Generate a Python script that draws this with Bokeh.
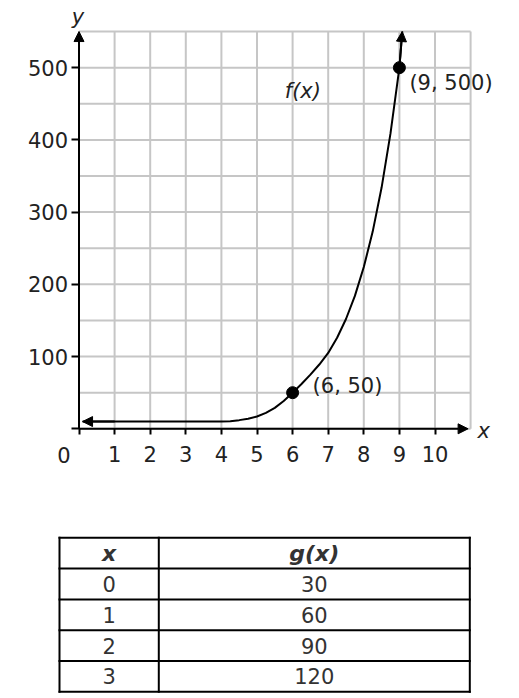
from bokeh.plotting import figure
from bokeh.models import Range1d, FixedTicker, Arrow, NormalHead, Label, ColumnDataSource, LinearAxis
from bokeh.layouts import column
from bokeh.embed import file_html
from bokeh.resources import INLINE
from bokeh.core.properties import value

# ---------------- data ----------------
curve_x = [0.1, 1, 2, 3, 4, 4.25, 4.5, 4.75, 5, 5.25, 5.5, 5.75, 6, 6.25, 6.5, 6.75,
           7, 7.25, 7.5, 7.75, 8, 8.25, 8.5, 8.75, 9, 9.08]
curve_y = [10, 10, 10, 10, 10, 10.5, 12, 14, 17, 22, 29, 38.5, 50, 62, 75, 89,
           105, 126, 152, 184, 224, 273, 334, 409, 500, 550]
point_x = [6, 9]
point_y = [50, 500]
point_labels = ["(6, 50)", "(9, 500)"]
x_ticks = [0, 1, 2, 3, 4, 5, 6, 7, 8, 9, 10]
y_ticks = [0, 100, 200, 300, 400, 500]
grid_x = [0, 1, 2, 3, 4, 5, 6, 7, 8, 9, 10, 11]
grid_y = [0, 50, 100, 150, 200, 250, 300, 350, 400, 450, 500, 550]
table_header = ["x", "g(x)"]
table_x = ["0", "1", "2", "3"]
table_g = ["30", "60", "90", "120"]

FONT = "DejaVu Sans"
TXT = "#222222"
GRID = "#c6c6c6"

# ---------------- chart (frame fills the whole figure) ----------------
W, H = 519, 480
X0_PX, XU = 78.5, 35.6      # pixel of x=0, pixels per x unit
Y0_PX, YU = 428.3, 0.7223   # pixel of y=0, pixels per y unit
p = figure(width=W, height=H,
           x_range=Range1d(-X0_PX / XU, (W - X0_PX) / XU),
           y_range=Range1d((Y0_PX - H) / YU, Y0_PX / YU),
           x_axis_type=None, y_axis_type=None,
           output_backend="svg", toolbar_location=None, min_border=0)
p.outline_line_color = None

# grid restricted to the plotting square
p.segment(x0=grid_x, y0=[grid_y[0]] * len(grid_x), x1=grid_x, y1=[grid_y[-1]] * len(grid_x),
          line_color=GRID, line_width=2)
p.segment(x0=[grid_x[0]] * len(grid_y), y0=grid_y, x1=[grid_x[-1]] * len(grid_y), y1=grid_y,
          line_color=GRID, line_width=2)

xaxis = LinearAxis(fixed_location=0, ticker=FixedTicker(ticks=x_ticks))
yaxis = LinearAxis(fixed_location=0, ticker=FixedTicker(ticks=y_ticks))
xaxis.major_label_overrides = {0: ""}
yaxis.major_label_overrides = {0: ""}
for ax in (xaxis, yaxis):
    ax.axis_line_color = None
    ax.minor_tick_line_color = None
    ax.major_tick_line_color = "black"
    ax.major_tick_line_width = 2
    ax.major_tick_in = 0
    ax.major_label_text_font = FONT
    ax.major_label_text_font_size = "21px"
    ax.major_label_text_color = TXT
xaxis.major_tick_out = 6
xaxis.major_label_standoff = 11
yaxis.major_tick_out = 8
yaxis.major_label_standoff = 3
p.add_layout(xaxis, "below")
p.add_layout(yaxis, "left")

def head():
    return NormalHead(size=10, fill_color="black", line_color="black", line_width=1)

# axis lines with arrow heads
p.add_layout(Arrow(end=head(), x_start=0, y_start=0, x_end=10.93, y_end=0,
                   line_width=2, line_color="black"))
p.add_layout(Arrow(end=head(), x_start=0, y_start=0, x_end=0, y_end=grid_y[-1],
                   line_width=2, line_color="black"))

# curve f(x)
p.line(curve_x, curve_y, line_width=2, line_color="black")
p.add_layout(Arrow(end=head(), x_start=curve_x[-2], y_start=curve_y[-2],
                   x_end=curve_x[-1], y_end=curve_y[-1], line_width=2, line_color="black"))
p.add_layout(Arrow(end=head(), x_start=curve_x[1], y_start=curve_y[1],
                   x_end=curve_x[0], y_end=curve_y[0], line_width=2, line_color="black"))

p.scatter(point_x, point_y, size=12, color="black")

offsets = [(20, 6.5), (10, -15.5)]
for px, py, lab, (dx, dy) in zip(point_x, point_y, point_labels, offsets):
    p.add_layout(Label(x=px, y=py, text=lab, x_offset=dx, y_offset=dy,
                       text_font=FONT, text_font_size="21px", text_color=TXT,
                       text_align="left", text_baseline="alphabetic"))

p.add_layout(Label(x=5.78, y=468, text="f(x)", text_font=FONT, text_font_size="21px",
                   text_font_style="italic", text_color=TXT,
                   text_align="left", text_baseline="alphabetic"))
p.add_layout(Label(x=0, y=0, text="0", x_offset=-15, y_offset=-26.5, text_font=FONT,
                   text_font_size="21px", text_color=TXT,
                   text_align="center", text_baseline="middle"))
p.add_layout(Label(x=grid_x[-1], y=0, text="x", x_offset=13, y_offset=-2.5, text_font=FONT,
                   text_font_size="21px", text_font_style="italic", text_color=TXT,
                   text_align="center", text_baseline="alphabetic"))
p.add_layout(Label(x=0, y=grid_y[-1], text="y", x_offset=-1, y_offset=15, text_font=FONT,
                   text_font_size="21px", text_font_style="italic", text_color=TXT,
                   text_align="center", text_baseline="alphabetic"))

# ---------------- table ----------------
TH = 698 - H
TOP_PX, ROW_PX = 57.3, 30.8
t = figure(width=W, height=TH, x_range=Range1d(0, W),
           y_range=Range1d((TH - TOP_PX) / ROW_PX, -TOP_PX / ROW_PX),
           output_backend="svg", toolbar_location=None, x_axis_type=None, y_axis_type=None,
           min_border=0)
t.outline_line_color = None

col_edges = [59, 158.3, 469.3]
n_rows = len(table_x) + 1
row_edges = list(range(n_rows + 1))
t.segment(x0=[col_edges[0]] * len(row_edges), y0=row_edges,
          x1=[col_edges[-1]] * len(row_edges), y1=row_edges,
          line_color="black", line_width=2, line_cap="square")
t.segment(x0=col_edges, y0=[0] * len(col_edges), x1=col_edges, y1=[n_rows] * len(col_edges),
          line_color="black", line_width=2, line_cap="square")

c1 = (col_edges[0] + col_edges[1]) / 2
c2 = (col_edges[1] + col_edges[2]) / 2
t.text(x=[c1, c2], y=[0.5, 0.5], text=table_header, text_font=value(FONT),
       text_font_size="22px", text_font_style="bold italic", text_color="#333333",
       text_align="center", text_baseline="middle")
rows_mid = [i + 1.5 for i in range(len(table_x))]
body = ColumnDataSource(dict(y=rows_mid, xs=table_x, gs=table_g,
                             c1=[c1] * len(table_x), c2=[c2] * len(table_x)))
t.text(x="c1", y="y", text="xs", source=body, text_font=value(FONT), text_font_size="21px",
       text_color="#333333", text_align="center", text_baseline="middle")
t.text(x="c2", y="y", text="gs", source=body, text_font=value(FONT), text_font_size="21px",
       text_color="#333333", text_align="center", text_baseline="middle")

layout = column(p, t, spacing=0)
open("out.html", "w").write(file_html(layout, INLINE))
